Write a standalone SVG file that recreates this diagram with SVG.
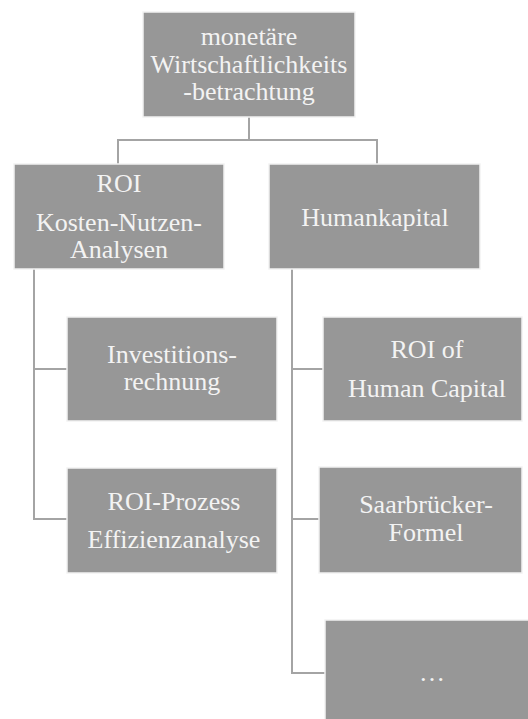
<svg xmlns="http://www.w3.org/2000/svg" width="528" height="719" viewBox="0 0 528 719">
  <style>
    .box { fill: #979797; stroke: #f2f2f2; stroke-width: 1.5; }
    .lbl { font-family: 'Liberation Serif', 'DejaVu Serif', serif; font-size: 26px; fill: #f3f3f3; text-anchor: middle; }
    .conn { fill: none; stroke: #a4a4a4; stroke-width: 2; }
  </style>
  <rect width="528" height="719" fill="#ffffff"/>

  <!-- connectors -->
  <g id="connectors">
    <path class="conn" d="M249 117 V140"/>
    <path class="conn" d="M118 164 V140 H377 V164"/>
    <path class="conn" d="M34 269 V519 H67"/>
    <path class="conn" d="M34 369 H67"/>
    <path class="conn" d="M292 269 V673 H325"/>
    <path class="conn" d="M292 369 H323"/>
    <path class="conn" d="M292 519 H319"/>
  </g>

  <g id="root">
    <rect class="box" x="143" y="12" width="212" height="105"/>
    <text class="lbl" x="249" y="45">monetäre</text>
    <text class="lbl" x="249" y="73">Wirtschaftlichkeits</text>
    <text class="lbl" x="249" y="100">-betrachtung</text>
  </g>

  <g id="roi">
    <rect class="box" x="14" y="164" width="210" height="105"/>
    <text class="lbl" x="119" y="192">ROI</text>
    <text class="lbl" x="119" y="231">Kosten-Nutzen-</text>
    <text class="lbl" x="119" y="258">Analysen</text>
  </g>

  <g id="humankapital">
    <rect class="box" x="269" y="164" width="211" height="105"/>
    <text class="lbl" x="375" y="226">Humankapital</text>
  </g>

  <g id="investitionsrechnung">
    <rect class="box" x="67" y="317" width="210" height="104"/>
    <text class="lbl" x="172" y="363">Investitions-</text>
    <text class="lbl" x="172" y="390">rechnung</text>
  </g>

  <g id="roi-prozess">
    <rect class="box" x="67" y="468" width="210" height="105"/>
    <text class="lbl" x="174" y="510">ROI-Prozess</text>
    <text class="lbl" x="174" y="548">Effizienzanalyse</text>
  </g>

  <g id="roi-human-capital">
    <rect class="box" x="323" y="317" width="199" height="104"/>
    <text class="lbl" x="427" y="358">ROI of</text>
    <text class="lbl" x="427" y="397">Human Capital</text>
  </g>

  <g id="saarbruecker">
    <rect class="box" x="319" y="467" width="203" height="106"/>
    <text class="lbl" x="426" y="513">Saarbrücker-</text>
    <text class="lbl" x="426" y="541">Formel</text>
  </g>

  <g id="more">
    <rect class="box" x="325" y="620" width="210" height="110"/>
    <text class="lbl" x="432" y="681">…</text>
  </g>
</svg>
